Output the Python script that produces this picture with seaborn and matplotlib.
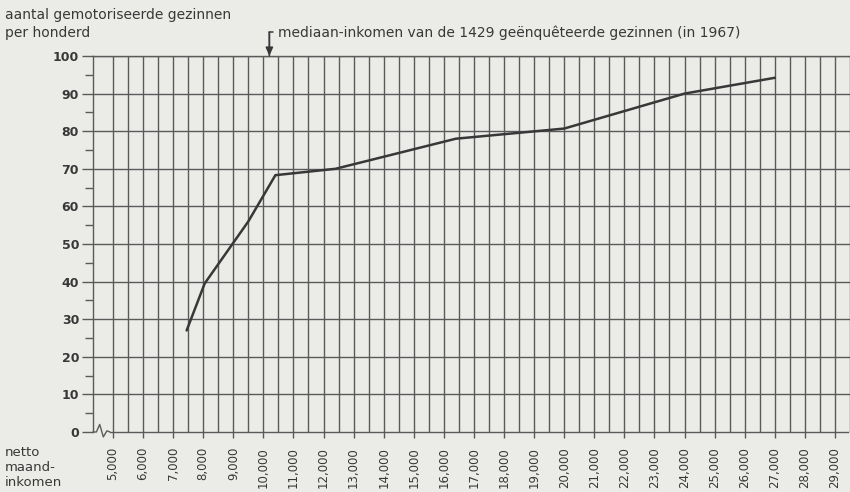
import matplotlib
matplotlib.use("Agg")
import matplotlib.pyplot as plt
import seaborn as sns
import pandas as pd

# ---- data ----
income = [7450, 8050, 9500, 10400, 12400, 16400, 20000, 24000, 27000]
motorised_pct = [27, 39.5, 56, 68.3, 70, 78, 80.7, 90, 94.2]
x_ticks = list(range(5000, 29001, 1000))
x_tick_labels = [f"{v:,}" for v in x_ticks]
y_ticks = list(range(0, 101, 10))
median_income = 10200

title_lines = ["aantal gemotoriseerde gezinnen", "per honderd"]
x_title = "netto\nmaand-\ninkomen"
median_text = "mediaan-inkomen van de 1429 geënquêteerde gezinnen (in 1967)"

# ---- style ----
sns.set_style("white")
plt.rcParams["font.family"] = ["DejaVu Sans"]
bg = "#ebebe8"
ink = "#383838"
gridc = "#5a5a5a"

fig = plt.figure(figsize=(8.5, 4.92), dpi=100, facecolor=bg)
ax = fig.add_axes([0.1094, 0.122, 0.8906, 0.7642], facecolor=bg)

df = pd.DataFrame({"income": income, "pct": motorised_pct})
sns.lineplot(data=df, x="income", y="pct", ax=ax, color=ink, lw=1.8, zorder=5)

ax.set_xlim(4337, 29430)
ax.set_ylim(0, 100)

ax.set_xticks(x_ticks)
ax.set_xticklabels(x_tick_labels, rotation=90, fontsize=8.5, color=ink)
ax.set_xticks([v + 500 for v in x_ticks], minor=True)
ax.set_yticks(y_ticks)
ax.set_yticklabels([str(v) for v in y_ticks], fontsize=9, fontweight="bold", color=ink)
ax.set_yticks([v + 5 for v in y_ticks[:-1]], minor=True)

ax.tick_params(axis="x", which="major", length=4.3, width=1.0, color=gridc,
               direction="out", pad=6.5, bottom=True)
ax.tick_params(axis="x", which="minor", length=0)
ax.tick_params(axis="y", which="major", length=8, width=1.0, color=gridc,
               direction="out", pad=2, left=True)
ax.tick_params(axis="y", which="minor", length=5.5, width=1.0, color=gridc,
               direction="out", left=True)

ax.grid(axis="x", which="both", color=gridc, lw=1.0)
ax.grid(axis="y", which="major", color=gridc, lw=1.0)
ax.get_ygridlines()[0].set_visible(False)
ax.set_axisbelow(True)

ax.set_xlabel("")
ax.set_ylabel("")
for s in ["right"]:
    ax.spines[s].set_visible(False)
for s in ["left", "top", "bottom"]:
    ax.spines[s].set_color(gridc)
    ax.spines[s].set_linewidth(1.0)
ax.spines["bottom"].set_bounds(4900, 29430)

# axis break squiggle at the origin
ax.plot([4337, 4450, 4560, 4680, 4800, 4900], [0, 0, 2.0, -1.3, 0.3, 0],
        color=gridc, lw=1.0, clip_on=False, zorder=4)

# median arrow
ax.annotate("", xy=(median_income, 100), xytext=(0, 17), textcoords="offset points",
            xycoords="data",
            arrowprops=dict(arrowstyle="-|>,head_length=0.5,head_width=0.22",
                            color=ink, lw=1.1, shrinkA=0, shrinkB=0),
            annotation_clip=False)
ax.annotate("", xy=(median_income, 100), xycoords="data",
            xytext=(0, 17), textcoords="offset points",
            arrowprops=dict(arrowstyle="-", color=ink, lw=1.1, shrinkA=0, shrinkB=0,
                            connectionstyle="arc3"),
            annotation_clip=False)
ax.annotate(median_text, xy=(median_income, 100), xycoords="data",
            xytext=(6.5, 17), textcoords="offset points", ha="left", va="center",
            fontsize=10, color=ink, annotation_clip=False)
# short top bar of the bracket
ax.annotate("", xy=(median_income, 100), xycoords="data",
            xytext=(0, 0), textcoords="offset points", annotation_clip=False)
fig.canvas.draw()
x0, y0 = ax.transData.transform((median_income, 100))
fig.add_artist(plt.Line2D([x0 - 0.5, x0 + 4], [y0 + 17 / 72 * 100, y0 + 17 / 72 * 100],
                          transform=None, color=ink, lw=1.1))

fig.text(0.006, 0.9695, title_lines[0], fontsize=10, color=ink, va="center", ha="left")
fig.text(0.006, 0.933, title_lines[1], fontsize=10, color=ink, va="center", ha="left")
fig.text(0.006, 0.094, x_title, fontsize=9.5, color=ink, va="top", ha="left",
         linespacing=1.2)

fig.savefig("out.png", dpi=100, facecolor=bg)
